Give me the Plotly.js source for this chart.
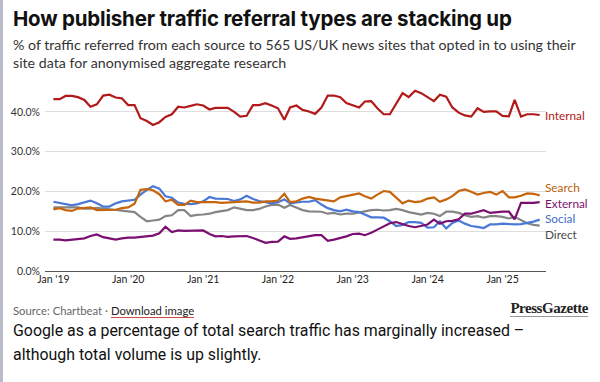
<!DOCTYPE html>
<html>
<head>
<meta charset="utf-8">
<script src="https://cdn.plot.ly/plotly-3.0.1.min.js"></script>
<style>
  html, body { margin: 0; padding: 0; background: #fff; }
  #wrap { position: relative; width: 600px; height: 382px; overflow: hidden; }
  #bar { position: absolute; left: 0; top: 0; width: 3px; height: 382px; background: #b9bdcb; }
  #chart { position: absolute; left: 0; top: 0; width: 600px; height: 382px; }
  .t { position: absolute; white-space: nowrap; pointer-events: none; }
  #title { left: 13px; top: 6px; font-family: Inter, sans-serif; font-weight: 700; font-size: 20.5px; color: #111; letter-spacing: -0.2px; }
  #sub { left: 13px; top: 36px; font-family: Lato, sans-serif; font-size: 14.2px; line-height: 18px; color: #333; }
  #src { left: 13px; top: 304px; font-family: Lato, sans-serif; font-size: 11.3px; color: #666; }
  #src span { color: #222; border-bottom: 1px solid #d04a4a; }
  #logo { right: 12px; top: 300px; font-family: "Liberation Serif", serif; font-weight: 700; font-size: 15px; color: #222; letter-spacing: -0.45px; border-bottom: 1px solid #999; line-height: 16px; }
  #cap { left: 13px; top: 319px; font-family: Roboto, sans-serif; font-size: 15.9px; line-height: 24px; color: #111; }
</style>
</head>
<body>
<div id="wrap">
  <div id="chart"></div>
  <div id="bar"></div>
  <div class="t" id="title">How publisher traffic referral types are stacking up</div>
  <div class="t" id="sub">% of traffic referred from each source to 565 US/UK news sites that opted in to using their<br>site data for anonymised aggregate research</div>
  <div class="t" id="src">Source: Chartbeat · <span>Download image</span></div>
  <div class="t" id="logo">PressGazette</div>
  <div class="t" id="cap">Google as a percentage of total search traffic has marginally increased –<br>although total volume is up slightly.</div>
</div>
<script>
// Monthly data, Jan 2019 – Jul 2025 (% of referred traffic)
const startYear = 2019, startMonth = 0, nMonths = 79;
const months = [];
for (let i = 0; i < nMonths; i++) {
  const y = startYear + Math.floor((startMonth + i) / 12);
  const m = (startMonth + i) % 12 + 1;
  months.push(y + '-' + String(m).padStart(2, '0') + '-01');
}

const internal = [43.2,43.2,44.0,44.0,43.7,43.0,41.3,41.9,44.1,44.3,43.6,43.4,41.7,41.7,38.4,37.7,36.7,37.4,38.7,39.4,
  41.3,41.1,41.5,41.9,41.6,40.6,41.0,41.0,41.0,40.0,38.8,39.0,41.7,41.7,42.2,41.6,40.9,38.0,
  41.1,41.6,40.5,40.1,39.5,41.1,44.1,44.1,43.7,42.2,41.6,41.1,42.6,42.7,40.9,39.4,39.4,41.9,44.7,43.7,45.3,44.7,
  43.8,42.7,44.3,43.8,41.1,39.8,39.1,38.8,40.9,40.0,40.1,40.1,39.0,38.9,43.0,38.8,39.4,39.4,39.2];

const search = [15.5,15.8,15.3,15.1,15.7,15.8,16.0,15.3,15.3,15.3,15.4,15.8,16.0,16.9,20.4,20.6,20.3,19.3,17.5,17.9,
  16.6,16.6,17.7,17.3,17.3,17.3,17.3,17.1,17.2,17.3,17.5,17.5,17.2,17.2,17.5,17.5,17.7,19.4,17.3,17.5,
  18.2,18.6,18.2,18.0,17.7,17.5,18.5,18.8,19.1,19.5,18.8,18.2,19.2,20.1,19.9,18.5,17.0,17.7,17.3,17.5,
  18.2,18.5,17.4,18.0,18.8,20.1,20.5,19.9,19.2,19.6,19.9,19.2,20.1,18.5,18.5,18.9,19.5,19.4,19.0];

const external = [7.9,7.9,7.7,7.9,8.1,8.2,8.8,9.2,8.5,8.2,7.9,8.2,8.4,8.4,8.6,8.8,8.9,9.5,11.1,9.8,
  10.2,10.1,10.1,10.1,10.2,9.3,8.7,8.8,8.6,8.7,8.8,8.8,8.3,7.7,7.1,7.3,7.4,8.7,8.1,8.2,
  8.5,8.7,9.0,9.0,7.6,7.9,8.3,8.7,9.3,9.4,9.0,9.6,10.4,11.2,12.0,12.3,11.7,11.3,11.0,11.3,
  11.7,12.9,11.9,12.5,12.6,13.0,14.4,14.4,14.9,15.3,14.6,14.8,14.9,14.9,13.0,17.1,17.1,17.1,17.3];

const social = [17.4,17.1,16.9,16.5,16.8,17.3,17.7,17.0,16.2,16.2,17.0,17.5,17.7,17.9,19.2,20.4,21.3,20.7,18.8,18.4,
  17.2,16.9,16.8,17.0,17.5,18.6,18.2,18.1,18.1,17.6,18.0,18.9,18.1,17.6,17.2,17.0,17.3,18.0,17.0,17.2,
  17.4,17.4,17.8,16.7,15.8,15.3,15.0,15.4,15.0,14.8,14.2,13.5,13.5,13.4,12.5,11.3,11.6,12.3,12.3,12.1,
  10.9,11.0,12.5,10.7,12.1,12.7,11.9,11.3,11.1,10.8,11.7,11.7,11.9,11.7,11.7,11.8,12.1,12.4,12.9];

const direct = [16.0,16.0,16.0,16.0,16.0,15.7,15.7,15.9,15.7,15.5,15.3,15.2,15.0,14.8,13.6,12.5,12.7,12.9,13.8,14.0,
  15.3,15.3,13.8,14.1,14.2,14.4,14.8,15.0,15.3,16.0,15.7,15.3,15.3,15.6,16.2,16.6,16.7,15.9,16.6,16.0,
  15.3,15.0,14.9,14.9,14.4,14.6,14.2,14.4,14.4,14.8,15.0,15.3,15.4,15.2,15.3,15.6,15.3,14.8,14.4,14.2,
  14.6,14.4,13.8,14.9,14.9,14.6,14.0,13.6,13.8,13.4,13.8,13.8,13.6,13.2,13.6,12.7,12.0,11.6,11.4];

const seriesNames = ['Direct', 'Social', 'External', 'Search', 'Internal'];
const seriesData = [direct, social, external, search, internal];
const seriesColors = ['#858585', '#4a78d6', '#7b0f6f', '#c7650c', '#b21a1a'];
const labelColors = ['#4a4a4a', '#3f6cc9', '#7b0f6f', '#b85e0c', '#b21a1a'];
const labelY = [9.1, 13.1, 17.0, 21.0, 39.1];   // label placement (spread to avoid overlap)

const tickVals = ['2019-01-01','2020-01-01','2021-01-01','2022-01-01','2023-01-01','2024-01-01','2025-01-01'];
const tickText = ["Jan '19","Jan '20","Jan '21","Jan '22","Jan '23","Jan '24","Jan '25"];
const yTicks = [0, 10, 20, 30, 40];

const traces = seriesData.map((d, k) => ({
  x: months, y: d, type: 'scatter', mode: 'lines', name: seriesNames[k],
  line: { color: seriesColors[k], width: 2.2, shape: 'linear' },
  hoverinfo: 'skip'
}));

const annotations = seriesNames.map((n, k) => ({
  xref: 'paper', yref: 'y', x: 1, y: labelY[k], xanchor: 'left', yanchor: 'middle',
  xshift: -3, text: n, showarrow: false,
  font: { family: 'Lato, sans-serif', size: 11.8, color: labelColors[k] }
}));

const layout = {
  width: 600, height: 382,
  margin: { l: 45, r: 54, t: 84, b: 111 },
  paper_bgcolor: 'rgba(0,0,0,0)', plot_bgcolor: 'rgba(0,0,0,0)',
  showlegend: false,
  xaxis: {
    type: 'date', range: ['2018-11-21', '2025-08-01'],
    tickvals: tickVals, ticktext: tickText,
    showgrid: false, zeroline: false, showline: false, ticks: '',
    tickfont: { family: 'Lato, sans-serif', size: 10.5, color: '#222' }
  },
  yaxis: {
    range: [0, 47], tickvals: yTicks, ticktext: yTicks.map(v => v.toFixed(1) + '%'),
    showgrid: true, gridcolor: '#dedede', gridwidth: 1,
    zeroline: true, zerolinecolor: '#555', zerolinewidth: 1,
    showline: false, ticks: '', ticklabelstandoff: 4,
    tickfont: { family: 'Lato, sans-serif', size: 10.5, color: '#333' }
  },
  annotations: annotations
};

Plotly.newPlot('chart', traces, layout, { displayModeBar: false, staticPlot: true });
</script>
</body>
</html>
